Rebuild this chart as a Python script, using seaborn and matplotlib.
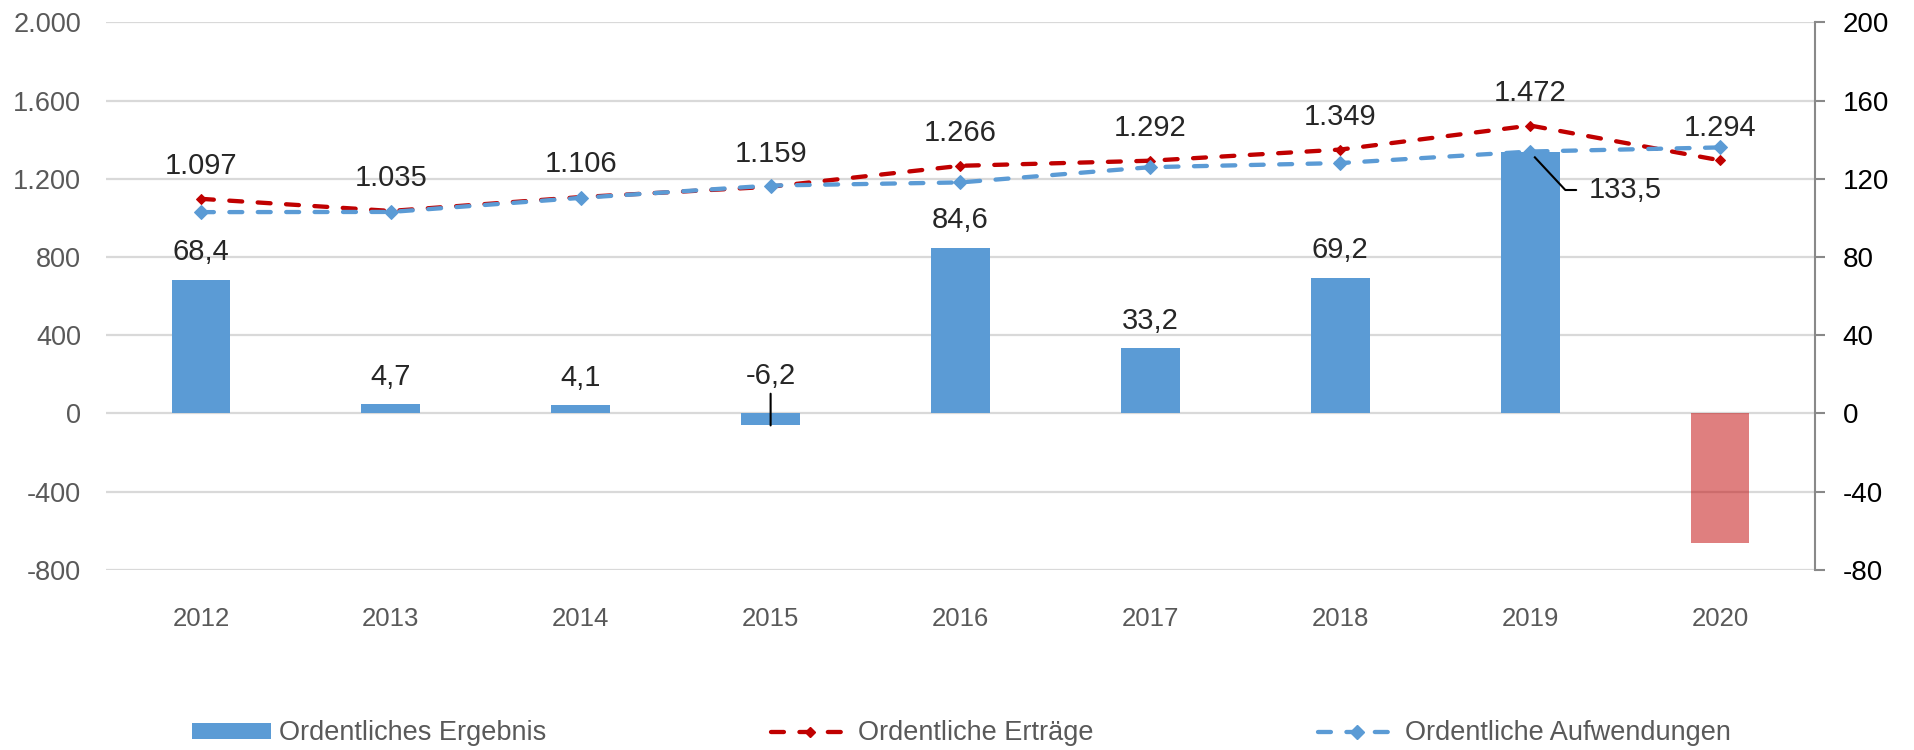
import numpy as np
import matplotlib
matplotlib.use("Agg")
import matplotlib.pyplot as plt
import seaborn as sns
from matplotlib.patches import Patch
from matplotlib.lines import Line2D
from matplotlib.ticker import FuncFormatter

# data (Mio. EUR)
years = ["2012", "2013", "2014", "2015", "2016", "2017", "2018", "2019", "2020"]
ergebnis = [68.4, 4.7, 4.1, -6.2, 84.6, 33.2, 69.2, 133.5, -66.4]
ertraege = [1097, 1035, 1106, 1159, 1266, 1292, 1349, 1472, 1294]
aufwendungen = [1029, 1030, 1102, 1165, 1181, 1259, 1280, 1339, 1360]
ergebnis_labels = ["68,4", "4,7", "4,1", "-6,2", "84,6", "33,2", "69,2", "133,5", ""]
ertraege_labels = ["1.097", "1.035", "1.106", "1.159", "1.266", "1.292", "1.349", "1.472", "1.294"]
legend_labels = ["Ordentliches Ergebnis", "Ordentliche Erträge", "Ordentliche Aufwendungen"]

BLUE = "#5B9BD5"
RED = "#C00000"
GRID = "#D9D9D9"
GREY_TXT = "#595959"
DASH = (0, (3, 3.6))
LW = 3.1


def de_thousands(v, pos):
    return f"{int(round(v)):,}".replace(",", ".")


sns.set_style("white")
plt.rcParams["font.family"] = ["Liberation Sans", "DejaVu Sans"]
plt.rcParams["axes.unicode_minus"] = False

fig = plt.figure(figsize=(19.15, 7.5), dpi=100)
ax = fig.add_axes([106 / 1915, 1 - 569.7 / 750, 1709 / 1915, 547.4 / 750])
ax2 = ax.twinx()

# bars -> right scale
bar_colors = {y: BLUE for y in years}
bar_colors["2020"] = RED
sns.barplot(x=years, y=ergebnis, hue=years, palette=bar_colors, width=0.31,
            saturation=1, errorbar=None, legend=False, linewidth=0, ax=ax)
for bar in ax.containers[-1]:
    bar.set_alpha(0.5)

ax.set_ylim(-80, 200)
ax.set_yticks(np.arange(-80, 201, 40))
ax.set_xlim(-0.5, len(years) - 0.5)
ax.yaxis.tick_right()
ax.set_axisbelow(True)
ax.yaxis.grid(True, color=GRID, linewidth=1.6)
ax.xaxis.grid(False)
for s in ["top", "left", "bottom"]:
    ax.spines[s].set_visible(False)
ax.spines["right"].set_color("#898989")
ax.spines["right"].set_linewidth(1.5)
ax.tick_params(axis="y", right=True, length=7, width=1.5, color="#898989",
               pad=13, labelsize=20, labelcolor="black")
ax.tick_params(axis="x", length=0, pad=27, labelsize=18.5, labelcolor=GREY_TXT)
ax.set_xlabel("")
ax.set_ylabel("")

# lines -> left scale
line_kw = dict(linewidth=LW, linestyle=DASH, dash_capstyle="round",
               marker="D", legend=False, ax=ax2)
sns.lineplot(x=years, y=ertraege, color=RED, markersize=5.2,
             markeredgecolor=RED, **line_kw)
sns.lineplot(x=years, y=aufwendungen, color=BLUE, markersize=7,
             markeredgecolor=BLUE, **line_kw)

ax2.set_ylim(-800, 2000)
ax2.set_yticks(np.arange(-800, 2001, 400))
ax2.yaxis.set_major_formatter(FuncFormatter(de_thousands))
ax2.yaxis.tick_left()
ax2.tick_params(axis="y", length=0, pad=18, labelsize=19.5, labelcolor=GREY_TXT)
for s in ax2.spines.values():
    s.set_visible(False)
ax2.set_xlabel("")
ax2.set_ylabel("")
ax2.set_xlim(-0.5, len(years) - 0.5)

# labels on the income line
for i, (v, lab) in enumerate(zip(ertraege, ertraege_labels)):
    ax2.annotate(lab, xy=(i, v), xytext=(0, 17.7), textcoords="offset points",
                 ha="center", va="baseline", fontsize=21)

# labels on the bars
top = max(ergebnis)
for i, (v, lab) in enumerate(zip(ergebnis, ergebnis_labels)):
    if not lab:
        continue
    if v < 0:
        ax.annotate(lab, xy=(i, v), xytext=(0, 29.5), textcoords="offset points",
                    ha="center", va="baseline", fontsize=21,
                    arrowprops=dict(arrowstyle="-", color="black", lw=1.5,
                                    shrinkA=0, shrinkB=0))
    elif v == top:
        ax.annotate(lab, xy=(i, v), xytext=(42.5, -32.9), textcoords="offset points",
                    ha="left", va="baseline", fontsize=21,
                    arrowprops=dict(arrowstyle="-", color="black", lw=1.5,
                                    shrinkA=7, shrinkB=0,
                                    connectionstyle="angle,angleA=0,angleB=-47,rad=0"))
    else:
        ax.annotate(lab, xy=(i, v), xytext=(0, 14.1), textcoords="offset points",
                    ha="center", va="baseline", fontsize=21)

# legend
handles = [
    Patch(facecolor=BLUE, edgecolor="none"),
    Line2D([], [], color=RED, lw=LW, linestyle=DASH, dash_capstyle="round",
           marker="D", markersize=5.2, markeredgecolor=RED),
    Line2D([], [], color=BLUE, lw=LW, linestyle=DASH, dash_capstyle="round",
           marker="D", markersize=7, markeredgecolor=BLUE),
]
fig.legend(handles, legend_labels, loc="center", bbox_to_anchor=(0.502, 0.022),
           ncol=3, frameon=False, fontsize=19.5, labelcolor=GREY_TXT,
           handlelength=2.9, handleheight=0.5, handletextpad=0.3,
           columnspacing=8.3)

fig.savefig("out.png", dpi=100)
